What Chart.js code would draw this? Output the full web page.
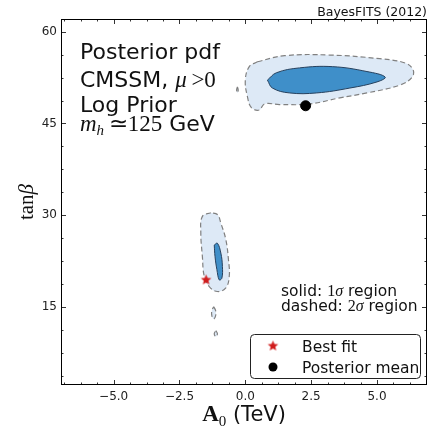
<!DOCTYPE html>
<html>
<head>
<meta charset="utf-8">
<script src="https://cdn.jsdelivr.net/npm/chart.js@4/dist/chart.umd.min.js"></script>
<style>
  html, body { margin: 0; padding: 0; background: #fff; }
</style>
</head>
<body>
<canvas id="c" width="429" height="429"></canvas>
<script>
// contour outlines: A0 (TeV) and tan(beta)
const upperOuterA0   = [0.46, 1.49, 3.21, 5.11, 6.07, 6.37, 6.34, 5.88, 4.62, 3.59, 2.44, 1.30, 0.73, 0.53, 0.23, 0.08, 0.00, 0.15];
const upperOuterTanb = [55.1, 56.1, 56.2, 55.6, 54.9, 53.8, 52.6, 51.3, 50.0, 49.2, 48.2, 48.1, 48.2, 47.2, 47.6, 49.4, 52.1, 54.3];
const upperInnerA0   = [0.84, 1.18, 2.06, 3.32, 4.62, 5.31, 5.00, 3.97, 2.71, 1.68, 1.03];
const upperInnerTanb = [52.1, 53.3, 54.1, 54.3, 53.5, 52.6, 51.8, 50.8, 50.0, 50.0, 50.8];
const lowerOuterA0   = [-1.31, -1.63, -1.69, -1.63, -1.56, -1.37, -1.06, -0.74, -0.61, -0.64, -0.74, -0.93, -1.06];
const lowerOuterTanb = [30.4, 29.8, 27.1, 23.2, 20.0, 18.3, 17.5, 18.1, 20.0, 22.7, 26.0, 28.7, 30.1];
const lowerInnerA0   = [-1.18, -1.06, -0.93, -0.87, -0.89, -0.99, -1.08, -1.15];
const lowerInnerTanb = [25.1, 25.4, 23.8, 21.6, 19.7, 19.4, 21.1, 23.2];
// small 2 sigma islands
const islandAA0   = [-1.20, -1.13, -1.13, -1.20, -1.27, -1.27];
const islandATanb = [15.0, 14.4, 13.5, 13.0, 13.5, 14.4];
const islandBA0   = [-1.12, -1.06, -1.12, -1.18];
const islandBTanb = [11.1, 10.6, 10.1, 10.6];
const islandCA0   = [-0.30, -0.27, -0.30, -0.33];
const islandCTanb = [51.0, 50.5, 50.0, 50.5];

const bestFit = { a0: -1.49, tanb: 19.4 };
const postMean = { a0: 2.29, tanb: 47.9 };

const xTicks = [-5, -2.5, 0, 2.5, 5];
const yTicks = [15, 30, 45, 60];
const legendLabels = ['Best fit', 'Posterior mean'];

const outerFill = '#dde9f6';
const innerFill = '#3f8fc9';

function loop(xs, ys) {
  const pts = xs.map((x, i) => ({ x: x, y: ys[i] }));
  pts.push(pts[0]);
  return pts;
}

function starCanvas(r, color) {
  const s = Math.ceil(r * 2 + 2);
  const c = document.createElement('canvas');
  c.width = s; c.height = s;
  const g = c.getContext('2d');
  g.beginPath();
  for (let i = 0; i < 10; i++) {
    const rad = i % 2 ? r * 0.45 : r;
    const ang = -Math.PI / 2 + i * Math.PI / 5;
    g.lineTo(s / 2 + rad * Math.cos(ang), s / 2 + rad * Math.sin(ang));
  }
  g.closePath();
  g.fillStyle = color;
  g.fill();
  return c;
}
const star = starCanvas(5.5, '#d01c1c');

function contour(pts, inner) {
  return {
    data: pts,
    showLine: true,
    fill: 'shape',
    tension: 0.4,
    pointRadius: 0,
    backgroundColor: inner ? innerFill : outerFill,
    borderColor: inner ? '#26415e' : '#808080',
    borderWidth: inner ? 1 : 1.2,
    borderDash: inner ? [] : [5, 3]
  };
}

// draw text made of runs with different fonts
function runs(ctx, x, y, parts) {
  let cx = x;
  parts.forEach(p => {
    ctx.font = p.f;
    ctx.fillText(p.t, cx, y + (p.dy || 0));
    cx += ctx.measureText(p.t).width;
  });
  return cx - x;
}
function runsWidth(ctx, parts) {
  let w = 0;
  parts.forEach(p => { ctx.font = p.f; w += ctx.measureText(p.t).width; });
  return w;
}

const SANS = 'DejaVu Sans';
const SERIF = 'Liberation Serif';

const decor = {
  id: 'decor',
  afterDraw(chart) {
    const ctx = chart.ctx, a = chart.chartArea;
    const xs = chart.scales.x, ys = chart.scales.y;
    ctx.save();

    // inward ticks on all four sides
    ctx.strokeStyle = '#333';
    ctx.lineWidth = 1;
    ctx.beginPath();
    for (let v = -6.875; v <= 6.9; v += 0.625) {
      const major = xTicks.some(t => Math.abs(t - v) < 1e-6);
      const L = major ? 5 : 2.5;
      const px = Math.round(xs.getPixelForValue(v)) + 0.5;
      ctx.moveTo(px, a.bottom); ctx.lineTo(px, a.bottom - L);
      ctx.moveTo(px, a.top); ctx.lineTo(px, a.top + L);
    }
    for (let v = 3.75; v <= 62; v += 3.75) {
      const major = yTicks.some(t => Math.abs(t - v) < 1e-6);
      const L = major ? 5 : 2.5;
      const py = Math.round(ys.getPixelForValue(v)) + 0.5;
      ctx.moveTo(a.left, py); ctx.lineTo(a.left + L, py);
      ctx.moveTo(a.right, py); ctx.lineTo(a.right - L, py);
    }
    ctx.stroke();

    // frame
    ctx.strokeStyle = '#000';
    ctx.strokeRect(a.left + 0.5, a.top + 0.5, a.right - a.left - 1, a.bottom - a.top - 1);

    ctx.fillStyle = '#111';
    ctx.textBaseline = 'alphabetic';
    ctx.textAlign = 'left';

    // title top right
    ctx.font = '12.5px ' + SANS;
    ctx.textAlign = 'right';
    ctx.fillText('BayesFITS (2012)', a.right, 16);
    ctx.textAlign = 'left';

    // annotation block
    const big = '22px ' + SANS;
    runs(ctx, 80, 59, [{ t: 'Posterior pdf', f: big }]);
    runs(ctx, 80, 87, [{ t: 'CMSSM, ', f: big }, { t: 'μ', f: 'italic 23px ' + SERIF }, { t: '\u2009>0', f: '23px ' + SERIF }]);
    runs(ctx, 80, 112, [{ t: 'Log Prior', f: big }]);
    runs(ctx, 80, 131, [
      { t: 'm', f: 'italic 23px ' + SERIF },
      { t: 'h', f: 'italic 15px ' + SERIF, dy: 4 },
      { t: '\u2009≃125', f: '23px ' + SERIF },
      { t: ' GeV', f: big }
    ]);

    // contour note
    const mid = '15.5px ' + SANS;
    runs(ctx, 281, 296, [{ t: 'solid: ', f: mid }, { t: '1', f: '16px ' + SERIF }, { t: 'σ', f: 'italic 16px ' + SERIF }, { t: ' region', f: mid }]);
    runs(ctx, 281, 311, [{ t: 'dashed: ', f: mid }, { t: '2', f: '16px ' + SERIF }, { t: 'σ', f: 'italic 16px ' + SERIF }, { t: ' region', f: mid }]);

    // legend box
    const bx = 250.5, by = 334.5, bw = 170, bh = 44, r = 4;
    ctx.beginPath();
    ctx.moveTo(bx + r, by);
    ctx.arcTo(bx + bw, by, bx + bw, by + bh, r);
    ctx.arcTo(bx + bw, by + bh, bx, by + bh, r);
    ctx.arcTo(bx, by + bh, bx, by, r);
    ctx.arcTo(bx, by, bx + bw, by, r);
    ctx.closePath();
    ctx.fillStyle = 'rgba(255,255,255,0.9)';
    ctx.fill();
    ctx.strokeStyle = '#222';
    ctx.lineWidth = 1;
    ctx.stroke();

    Chart.helpers.drawPoint(ctx, { pointStyle: star, radius: 5.5, rotation: 0 }, 273, 346);
    ctx.fillStyle = '#000';
    ctx.beginPath();
    ctx.arc(273, 367, 4.5, 0, Math.PI * 2);
    ctx.fill();
    ctx.fillStyle = '#111';
    ctx.font = mid;
    ctx.fillText(legendLabels[0], 302, 352);
    ctx.fillText(legendLabels[1], 302, 373);

    // x axis title
    const xt = [
      { t: 'A', f: 'bold 23px ' + SERIF },
      { t: '0', f: '15px ' + SERIF, dy: 5 },
      { t: ' (TeV)', f: '21px ' + SANS }
    ];
    const xw = runsWidth(ctx, xt);
    runs(ctx, (a.left + a.right) / 2 - xw / 2, 421, xt);

    // y axis title
    const yt = [{ t: 'tan', f: '21px ' + SERIF }, { t: 'β', f: 'italic 21px ' + SERIF }];
    const yw = runsWidth(ctx, yt);
    ctx.translate(33, (a.top + a.bottom) / 2);
    ctx.rotate(-Math.PI / 2);
    runs(ctx, -yw / 2, 0, yt);

    ctx.restore();
  }
};

const fmt = v => (v < 0 ? '\u2212' : '') + Math.abs(v).toFixed(1);

new Chart(document.getElementById('c'), {
  type: 'scatter',
  data: {
    datasets: [
      { data: [{ x: bestFit.a0, y: bestFit.tanb }], pointStyle: star, pointRadius: 5.5, order: 0 },
      { data: [{ x: postMean.a0, y: postMean.tanb }], pointStyle: 'circle', pointRadius: 5, backgroundColor: '#000', borderColor: '#000', order: 1 },
      Object.assign(contour(loop(upperInnerA0, upperInnerTanb), true), { order: 2 }),
      Object.assign(contour(loop(lowerInnerA0, lowerInnerTanb), true), { order: 3 }),
      Object.assign(contour(loop(upperOuterA0, upperOuterTanb), false), { order: 4 }),
      Object.assign(contour(loop(lowerOuterA0, lowerOuterTanb), false), { order: 5 }),
      Object.assign(contour(loop(islandAA0, islandATanb), false), { order: 6 }),
      Object.assign(contour(loop(islandBA0, islandBTanb), false), { order: 7 }),
      Object.assign(contour(loop(islandCA0, islandCTanb), false), { order: 8 })
    ]
  },
  options: {
    responsive: false,
    animation: false,
    layout: { autoPadding: false, padding: { top: 19, right: 2, left: 0, bottom: 0 } },
    plugins: { legend: { display: false }, tooltip: { enabled: false } },
    scales: {
      x: {
        type: 'linear', min: -7.0, max: 6.9,
        grid: { display: false, drawTicks: false },
        border: { display: false },
        afterFit: s => { s.height = 44; },
        afterBuildTicks: s => { s.ticks = xTicks.map(v => ({ value: v })); },
        ticks: { callback: fmt, padding: 5, color: '#222', font: { family: SANS, size: 12 }, maxRotation: 0 }
      },
      y: {
        type: 'linear', min: 2.2, max: 62.1,
        grid: { display: false, drawTicks: false },
        border: { display: false },
        afterFit: s => { s.width = 61; },
        afterBuildTicks: s => { s.ticks = yTicks.map(v => ({ value: v })); },
        ticks: { padding: 4, color: '#222', font: { family: SANS, size: 12 } }
      }
    }
  },
  plugins: [decor]
});
</script>
</body>
</html>
